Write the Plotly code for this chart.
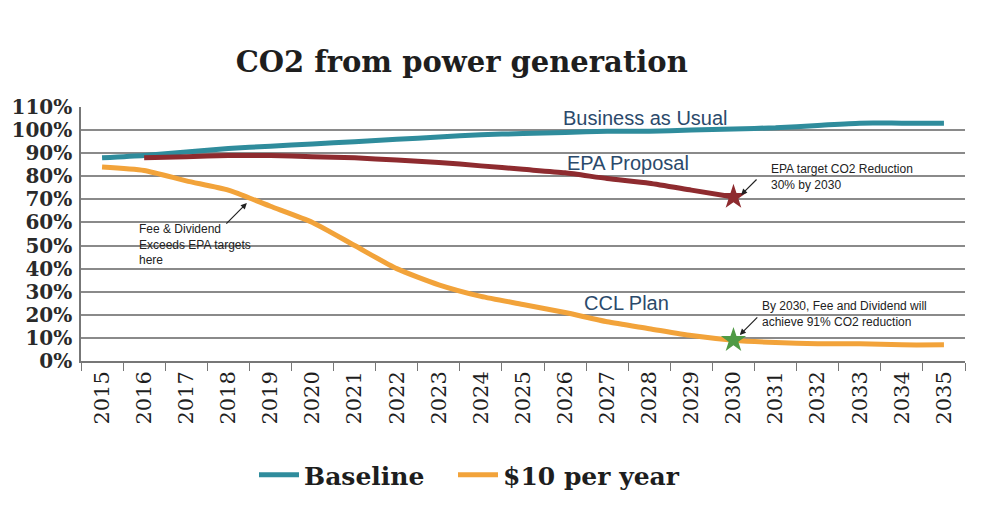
import plotly.graph_objects as go

years = [str(y) for y in range(2015, 2036)]
baseline = [88, 89, 90.5, 92, 93, 94, 95, 96, 97, 98, 98.5, 99, 99.5, 99.5, 100, 100.5, 101, 102, 103, 103, 103]
ten_per_year = [84, 82.5, 78, 74, 67, 60, 50, 40, 33, 28, 24.5, 21, 17, 14, 11, 9, 8, 7.5, 7.5, 7, 7]
epa_proposal = [None, 88, 88.5, 89, 89, 88.5, 88, 87, 86, 84.5, 83, 81.5, 79, 77, 74, 71, None, None, None, None, None]
y_ticks = [0, 10, 20, 30, 40, 50, 60, 70, 80, 90, 100, 110]
y_tick_labels = [f"{v}%" for v in y_ticks]

TEAL = "#2f8c9c"
ORANGE = "#f2a33a"
RED = "#8e2b2f"
GREEN = "#4f9a45"
SERIF = "DejaVu Serif"
SANS = "Liberation Sans"

fig = go.Figure()
fig.add_trace(go.Scatter(x=years, y=baseline, mode="lines", name="<b>Baseline</b>", legend="legend",
                         line=dict(color=TEAL, width=5, shape="spline", smoothing=0.6)))
fig.add_trace(go.Scatter(x=years, y=ten_per_year, mode="lines", name="<b>$10 per year</b>", legend="legend2",
                         line=dict(color=ORANGE, width=5, shape="spline", smoothing=0.6)))
fig.add_trace(go.Scatter(x=years, y=epa_proposal, mode="lines", name="EPA Proposal", showlegend=False,
                         line=dict(color=RED, width=5, shape="spline", smoothing=0.6)))
fig.add_trace(go.Scatter(x=["2030"], y=[epa_proposal[15]], mode="markers", showlegend=False,
                         marker=dict(symbol="star", size=19, color=RED)))
fig.add_trace(go.Scatter(x=["2030"], y=[ten_per_year[15]], mode="markers", showlegend=False,
                         marker=dict(symbol="star", size=19, color=GREEN)))

label_font = dict(family=SANS, size=20, color="#2b4a6b")
small_font = dict(family=SANS, size=12, color="#222222")
annots = [
    dict(x=12.9, y=105.2, text="Business as Usual", font=label_font, showarrow=False, xanchor="center", yanchor="middle"),
    dict(x=12.5, y=85.7, text="EPA Proposal", font=label_font, showarrow=False, xanchor="center", yanchor="middle"),
    dict(x=12.45, y=25.1, text="CCL Plan", font=label_font, showarrow=False, xanchor="center", yanchor="middle"),
    dict(x=0.83, y=61.0, text="Fee & Dividend<br>Exceeds EPA targets<br>here", font=small_font, showarrow=False,
         xanchor="left", yanchor="top", align="left"),
    dict(x=15.84, y=87.0, text="EPA target CO2 Reduction<br>30% by 2030", font=small_font, showarrow=False,
         xanchor="left", yanchor="top", align="left"),
    dict(x=15.62, y=27.8, text="By 2030, Fee and Dividend will<br>achieve 91% CO2 reduction", font=small_font, showarrow=False,
         xanchor="left", yanchor="top", align="left"),
    dict(x=3.44, y=68.4, text="", showarrow=True, ax=-22, ay=22, arrowhead=2, arrowsize=1, arrowwidth=1.2, arrowcolor="#222"),
    dict(x=15.18, y=71.9, text="", showarrow=True, ax=17, ay=-17, arrowhead=2, arrowsize=1, arrowwidth=1.2, arrowcolor="#222"),
    dict(x=15.15, y=11.3, text="", showarrow=True, ax=19, ay=-19, arrowhead=2, arrowsize=1, arrowwidth=1.2, arrowcolor="#222"),
]
for a in annots:
    a.setdefault("xref", "x")
    a.setdefault("yref", "y")
    fig.add_annotation(**a)

legend_common = dict(orientation="h", xref="container", yref="container", xanchor="left",
                     y=1 - 475 / 525, yanchor="middle",
                     font=dict(family=SERIF, size=25, color="#1e1e1e"),
                     itemwidth=40, bgcolor="rgba(0,0,0,0)")

fig.update_layout(
    width=995, height=525,
    paper_bgcolor="white", plot_bgcolor="white",
    margin=dict(l=81, r=30, t=107, b=164, autoexpand=False),
    title=dict(text="<b>CO2 from power generation</b>", x=0.464, xref="container", xanchor="center",
               y=1 - 62 / 525, yref="container", yanchor="middle",
               font=dict(family=SERIF, size=29, color="#1e1e1e")),
    legend=dict(x=254 / 995, **legend_common),
    legend2=dict(x=453 / 995, **legend_common),
    xaxis=dict(type="category", tickson="boundaries", ticks="outside", ticklen=8, tickcolor="#777",
               tickangle=-90, showgrid=False, showline=True, linecolor="#777", linewidth=1.5,
               tickfont=dict(family=SERIF, size=21, color="#1e1e1e"), range=[-0.5, 20.5], automargin=False),
    yaxis=dict(range=[0, 110], tickvals=y_ticks, ticktext=[f"<b>{t}</b>" for t in y_tick_labels],
               showgrid=True, gridcolor="#8a8a8a", gridwidth=1.5, showline=True, linecolor="#777", linewidth=1.5,
               zeroline=False, tickfont=dict(family=SERIF, size=20, color="#2a2a2a"), ticks="",
               automargin=False, ticklabelstandoff=3),
    showlegend=True,
)

fig.write_html("out.html", config={"displayModeBar": False},
               post_script="document.body.style.margin='0';")
